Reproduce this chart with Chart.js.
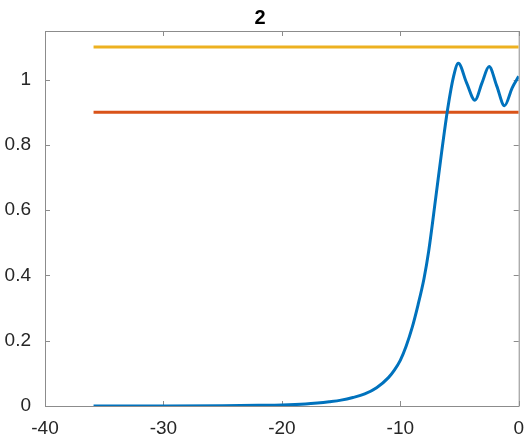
<!DOCTYPE html>
<html>
<head>
<meta charset="utf-8">
<script src="https://cdn.jsdelivr.net/npm/chart.js@4/dist/chart.umd.min.js"></script>
<style>
  html, body { margin: 0; padding: 0; background: #fff; }
  #wrap { width: 527px; height: 435px; }
</style>
</head>
<body>
<div id="wrap"><canvas id="chart"></canvas></div>
<script>
// values
const curveX = [-35.9, -30, -25, -22, -20, -18, -17, -16, -15, -14, -13, -12, -11, -10.5, -10, -9.5, -9, -8.5, -8, -7.6, -7, -6.5, -6, -5.5, -5.1, -4.4, -3.7, -3.1, -2.5, -1.85, -1.2, -0.55, 0]
const curveY = [0, 0.0003, 0.001, 0.002, 0.003, 0.006, 0.009, 0.013, 0.018, 0.026, 0.037, 0.056, 0.087, 0.11, 0.14, 0.184, 0.24, 0.31, 0.39, 0.475, 0.64, 0.78, 0.91, 1.01, 1.05, 0.99, 0.937, 0.99, 1.04, 0.98, 0.92, 0.975, 1.01]
const bandX = [-35.9, 0]
const upperY = [1.1, 1.1]
const lowerY = [0.9, 0.9]
const xTicks = [-40, -30, -20, -10, 0]
const yTicks = [0, 0.2, 0.4, 0.6, 0.8, 1]

const toPoints = (xs, ys) => xs.map((x, i) => ({x: x, y: ys[i]}))

const axisColor = '#8c8c8c'
const fontFamily = "'Liberation Sans', Arial, Helvetica, sans-serif"

// MATLAB-like box with inward ticks
const boxPlugin = {
    id: 'box',
    beforeDatasetsDraw(chart) {
        const {ctx, chartArea: a, scales: {x, y}} = chart
        const len = 5
        ctx.save()
        ctx.strokeStyle = axisColor
        ctx.lineWidth = 1
        ctx.beginPath()
        ctx.rect(a.left + 0.5, a.top + 0.5, a.right - a.left, a.bottom - a.top)
        x.ticks.forEach(t => {
            const px = Math.round(x.getPixelForValue(t.value)) + 0.5
            ctx.moveTo(px, a.bottom); ctx.lineTo(px, a.bottom - len)
            ctx.moveTo(px, a.top); ctx.lineTo(px, a.top + len)
        })
        y.ticks.forEach(t => {
            const py = Math.round(y.getPixelForValue(t.value)) + 0.5
            ctx.moveTo(a.left, py); ctx.lineTo(a.left + len, py)
            ctx.moveTo(a.right, py); ctx.lineTo(a.right - len, py)
        })
        ctx.stroke()
        ctx.restore()
    }
}

const data = {
    datasets: [{
        label: 'response',
        data: toPoints(curveX, curveY),
        borderColor: '#0072BD',
        borderWidth: 3,
        cubicInterpolationMode: 'monotone',
        pointRadius: 0,
        fill: false
    }, {
        label: 'upper',
        data: toPoints(bandX, upperY),
        borderColor: '#EDB120',
        borderWidth: 3,
        pointRadius: 0,
        fill: false
    }, {
        label: 'lower',
        data: toPoints(bandX, lowerY),
        borderColor: '#D95319',
        borderWidth: 3,
        pointRadius: 0,
        fill: false
    }]
}

const config = {
    type: 'line',
    data: data,
    plugins: [boxPlugin],
    options: {
        responsive: true,
        maintainAspectRatio: false,
        animation: false,
        layout: { padding: { left: 0, right: 7, top: 0, bottom: 0 } },
        plugins: {
            legend: { display: false },
            tooltip: { enabled: false },
            title: {
                display: true,
                text: '2',
                color: '#000',
                font: { family: fontFamily, size: 20, weight: 'bold' },
                padding: { top: 6, bottom: 1 }
            }
        },
        scales: {
            x: {
                type: 'linear',
                min: -40,
                max: 0,
                grid: { display: false },
                border: { display: false },
                afterFit: s => { s.height = 29 },
                afterBuildTicks: s => { s.ticks = xTicks.map(v => ({value: v})) },
                ticks: {
                    color: '#262626',
                    padding: 3,
                    maxRotation: 0,
                    font: { family: fontFamily, size: 19 },
                    callback: v => String(v)
                }
            },
            y: {
                type: 'linear',
                min: 0,
                max: 1.149,
                grid: { display: false },
                border: { display: false },
                afterFit: s => { s.width = 45 },
                afterBuildTicks: s => { s.ticks = yTicks.map(v => ({value: v})) },
                ticks: {
                    color: '#262626',
                    padding: 6,
                    font: { family: fontFamily, size: 19 },
                    callback: v => String(Number(v.toFixed(1)))
                }
            }
        }
    }
}

new Chart(document.getElementById('chart'), config)
</script>
</body>
</html>
